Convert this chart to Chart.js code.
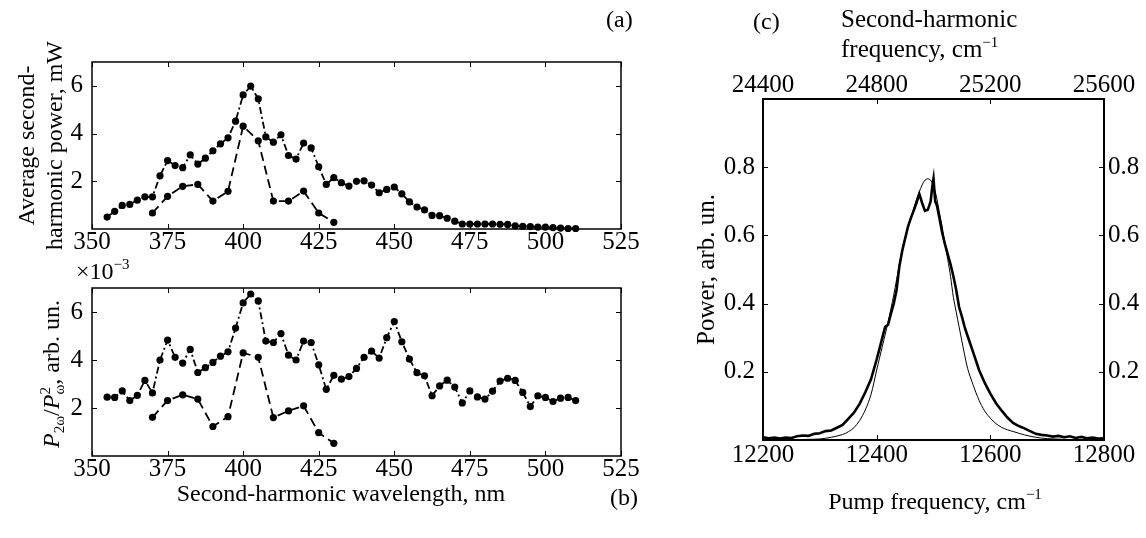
<!DOCTYPE html>
<html>
<head>
<meta charset="utf-8">
<script src="https://cdn.jsdelivr.net/npm/chart.js@4.4.1/dist/chart.umd.min.js"></script>
<style>
  body { margin: 0; background: #fff; }
  #wrap { position: relative; width: 1146px; height: 538px; overflow: hidden; font-family: 'Liberation Serif', serif; color: #000; }
  canvas { position: absolute; left: 0; top: 0; }
  .t { position: absolute; font-size: 24px; line-height: 1; white-space: nowrap; }
  .c { transform: translate(-50%, -50%); }
  sup { font-size: 15px; line-height: 0; vertical-align: 10px; }
  sub { font-size: 15px; line-height: 0; vertical-align: -5px; }
  .ss { display: inline-flex; flex-direction: column; font-size: 15px; line-height: 14px; vertical-align: 9px; }
</style>
</head>
<body>
<div id="wrap">
<canvas id="chA" width="1146" height="538"></canvas>
<canvas id="chB" width="1146" height="538"></canvas>
<canvas id="chC" width="1146" height="538"></canvas>

<div class="t" style="left:606px;top:7px">(a)</div>
<div class="t" style="left:76px;top:259px">×10<sup>−3</sup></div>
<div class="t c" style="left:52px;top:374px;transform:translate(-50%,-50%) rotate(-90deg)"><i>P</i><sub>2ω</sub>/<i>P</i><span class="ss"><span>2</span><span>ω</span></span>, arb. un.</div>
<div class="t c" style="left:341px;top:493px">Second-harmonic wavelength, nm</div>
<div class="t" style="left:610px;top:485px">(b)</div>

<div class="t" style="left:753px;top:9px">(c)</div>
<div class="t" style="left:841px;top:4px;line-height:30px;font-size:25px">Second-harmonic<br>frequency, cm<sup>−1</sup></div>
<div class="t c" style="left:935px;top:501px">Pump frequency, cm<sup>−1</sup></div>
</div>

<script>
// (a), (b): wavelength, nm
const wlFine = [
  355, 357.5, 360, 362.5, 365, 367.5, 370, 372.5, 375, 377.5,
  380, 382.5, 385, 387.5, 390, 392.5, 395, 397.5, 400, 402.5,
  405, 407.5, 410, 412.5, 415, 417.5, 420, 422.5, 425, 427.5,
  430, 432.5, 435, 437.5, 440, 442.5, 445, 447.5, 450, 452.5,
  455, 457.5, 460, 462.5, 465, 467.5, 470, 472.5, 475, 477.5,
  480, 482.5, 485, 487.5, 490, 492.5, 495, 497.5, 500, 502.5,
  505, 507.5, 510
];
const wlCoarse = [370, 375, 380, 385, 390, 395, 400, 405, 410, 415, 420, 425, 430];

// average SH power, mW
const powerFine = [
  0.50, 0.74, 0.99, 1.03, 1.21, 1.35, 1.35, 2.23, 2.87, 2.66,
  2.57, 3.11, 2.72, 2.97, 3.28, 3.57, 3.82, 4.52, 5.62, 5.99,
  5.46, 3.86, 3.64, 3.95, 3.08, 2.93, 3.60, 3.40, 2.61, 1.87,
  2.15, 1.94, 1.80, 2.00, 2.02, 1.84, 1.52, 1.66, 1.76, 1.47,
  1.14, 0.92, 0.80, 0.57, 0.56, 0.45, 0.33, 0.21, 0.21, 0.21,
  0.21, 0.21, 0.20, 0.19, 0.13, 0.11, 0.10, 0.08, 0.08, 0.06,
  0.04, 0.02, 0.02
];
const powerCoarse = [0.67, 1.37, 1.79, 1.87, 1.17, 1.58, 4.31, 3.70, 1.17, 1.17, 1.59, 0.67, 0.28];

// P2w / Pw^2, x1e-3
const effFine = [
  2.45, 2.44, 2.71, 2.31, 2.53, 3.15, 2.63, 4.00, 4.83, 4.11,
  3.87, 4.44, 3.48, 3.68, 3.90, 4.16, 4.34, 5.33, 6.38, 6.75,
  6.46, 4.79, 4.73, 5.10, 4.20, 4.00, 4.79, 4.73, 3.80, 2.78,
  3.36, 3.20, 3.31, 3.65, 4.11, 4.37, 4.08, 4.93, 5.60, 4.76,
  4.04, 3.47, 3.34, 2.51, 2.92, 3.16, 2.87, 2.21, 2.71, 2.46,
  2.37, 2.70, 3.12, 3.24, 3.15, 2.65, 2.06, 2.51, 2.44, 2.27,
  2.41, 2.44, 2.31
];
const effCoarse = [1.61, 2.31, 2.55, 2.37, 1.23, 1.64, 4.30, 4.11, 1.60, 1.88, 2.09, 0.97, 0.53];

const wlTicks = [350, 375, 400, 425, 450, 475, 500, 525];
const yTicksAB = [2, 4, 6];

// (c): pump frequency, cm-1
const expX = [
  12200, 12210, 12220, 12230, 12240, 12250, 12260, 12270, 12280, 12290,
  12300, 12310, 12320, 12330, 12340, 12350, 12360, 12370, 12380, 12390,
  12400, 12405, 12410, 12415, 12420, 12425, 12430, 12435, 12440, 12445,
  12450, 12455, 12460, 12465, 12470, 12475, 12480, 12485, 12490, 12495,
  12498, 12500, 12503, 12506, 12510, 12515, 12520, 12525, 12530, 12535,
  12540, 12545, 12550, 12555, 12560, 12570, 12580, 12590, 12600, 12610,
  12620, 12630, 12640, 12650, 12660, 12670, 12680, 12690, 12700, 12710,
  12720, 12730, 12740, 12750, 12760, 12770, 12780, 12790, 12800
];
const expY = [
  0.008, 0.005, 0.007, 0.004, 0.007, 0.006, 0.011, 0.013, 0.012, 0.018,
  0.020, 0.026, 0.028, 0.036, 0.044, 0.062, 0.080, 0.106, 0.140, 0.178,
  0.236, 0.268, 0.300, 0.332, 0.338, 0.370, 0.400, 0.440, 0.510, 0.555,
  0.590, 0.625, 0.650, 0.672, 0.695, 0.722, 0.695, 0.672, 0.675, 0.700,
  0.745, 0.766, 0.700, 0.688, 0.655, 0.610, 0.575, 0.545, 0.515, 0.480,
  0.440, 0.390, 0.362, 0.330, 0.305, 0.256, 0.206, 0.168, 0.136, 0.108,
  0.086, 0.066, 0.050, 0.041, 0.034, 0.026, 0.018, 0.015, 0.013, 0.010,
  0.012, 0.008, 0.011, 0.006, 0.009, 0.005, 0.007, 0.004, 0.005
];
const calcX = [
  12200, 12250, 12300, 12320, 12340, 12350, 12360, 12370, 12380, 12390,
  12400, 12410, 12420, 12430, 12440, 12450, 12460, 12470, 12480, 12485,
  12490, 12495, 12500, 12505, 12510, 12515, 12520, 12525, 12530, 12535,
  12540, 12550, 12560, 12570, 12580, 12590, 12600, 12610, 12620, 12630,
  12640, 12660, 12680, 12700, 12750, 12800
];
const calcY = [
  0.000, 0.001, 0.003, 0.008, 0.016, 0.024, 0.036, 0.057, 0.088, 0.133,
  0.205, 0.275, 0.345, 0.425, 0.515, 0.595, 0.650, 0.705, 0.748, 0.762,
  0.766, 0.762, 0.745, 0.715, 0.670, 0.628, 0.575, 0.530, 0.480, 0.418,
  0.375, 0.290, 0.210, 0.160, 0.117, 0.085, 0.064, 0.048, 0.037, 0.030,
  0.025, 0.015, 0.008, 0.004, 0.001, 0.000
];
const pumpTicks = [12200, 12400, 12600, 12800];
const shTicks = [24400, 24800, 25200, 25600];
const yTicksC = [0.2, 0.4, 0.6, 0.8];

const FONT = { family: "'Liberation Serif', serif", size: 25, lineHeight: 1 };
const TFONT = { family: "'Liberation Serif', serif", size: 24, lineHeight: 1.2 };

// box + inward tick marks, matlab style
const frame = {
  id: 'frame',
  beforeDatasetsDraw(chart, args, o) {
    const { ctx, chartArea: a, scales } = chart;
    const L = 5;
    ctx.save();
    ctx.strokeStyle = '#000';
    ctx.lineWidth = 1;
    ctx.beginPath();
    Object.values(scales).forEach(s => {
      s.ticks.forEach(t => {
        const p = Math.round(s.getPixelForValue(t.value)) + 0.5;
        if (s.isHorizontal()) {
          if (s.position === 'bottom' || o.mirror) { ctx.moveTo(p, a.bottom); ctx.lineTo(p, a.bottom - L); }
          if (s.position === 'top' || o.mirror) { ctx.moveTo(p, a.top); ctx.lineTo(p, a.top + L); }
        } else {
          if (s.position === 'left' || o.mirror) { ctx.moveTo(a.left, p); ctx.lineTo(a.left + L, p); }
          if (s.position === 'right' || o.mirror) { ctx.moveTo(a.right, p); ctx.lineTo(a.right - L, p); }
        }
      });
    });
    ctx.stroke();
    ctx.lineWidth = o.width;
    ctx.strokeRect(a.left, a.top, a.right - a.left, a.bottom - a.top);
    ctx.restore();
  }
};

function setTicks(list) {
  return s => { s.ticks = list.map(v => ({ value: v })); };
}

function axis(extra) {
  return Object.assign({
    type: 'linear',
    grid: { display: false, drawTicks: false },
    border: { display: false },
    ticks: { font: FONT, color: '#000', padding: 1, maxRotation: 0, callback: v => String(v) }
  }, extra);
}

function dotSeries(xs, ys, dash) {
  return {
    data: xs.map((x, i) => ({ x: x, y: ys[i] })),
    borderColor: '#000',
    backgroundColor: '#000',
    borderWidth: 1.8,
    borderDash: dash,
    pointRadius: 3.6,
    pointBorderWidth: 0,
    tension: 0,
    clip: false
  };
}

const common = {
  responsive: false,
  animation: false,
  events: [],
  plugins: { legend: { display: false }, tooltip: { enabled: false } }
};

// panel (a)
new Chart(document.getElementById('chA'), {
  type: 'line',
  data: {
    datasets: [
      dotSeries(wlFine, powerFine, [7, 3, 2, 3]),
      dotSeries(wlCoarse, powerCoarse, [9, 5])
    ]
  },
  options: Object.assign({}, common, {
    layout: { padding: { left: 13, top: 62, right: 525, bottom: 279 } },
    plugins: Object.assign({}, common.plugins, { frame: { width: 1.5, mirror: true } }),
    scales: {
      x: axis({ min: 350, max: 525, afterBuildTicks: setTicks(wlTicks), afterFit: s => { s.height = 30; } }),
      y: axis({
        min: 0, max: 7,
        afterBuildTicks: setTicks(yTicksAB),
        afterFit: s => { s.width = 79; },
        ticks: { font: FONT, color: '#000', padding: 9, callback: v => String(v) },
        title: { display: true, text: ['Average second-', 'harmonic power, mW'], font: TFONT, color: '#000', padding: 0 }
      })
    }
  }),
  plugins: [frame]
});

// panel (b)
new Chart(document.getElementById('chB'), {
  type: 'line',
  data: {
    datasets: [
      dotSeries(wlFine, effFine, [7, 3, 2, 3]),
      dotSeries(wlCoarse, effCoarse, [9, 5])
    ]
  },
  options: Object.assign({}, common, {
    layout: { padding: { left: 52, top: 288, right: 525, bottom: 52 } },
    plugins: Object.assign({}, common.plugins, { frame: { width: 1.5, mirror: true } }),
    scales: {
      x: axis({ min: 350, max: 525, afterBuildTicks: setTicks(wlTicks), afterFit: s => { s.height = 30; } }),
      y: axis({
        min: 0, max: 7,
        afterBuildTicks: setTicks(yTicksAB),
        afterFit: s => { s.width = 40; },
        ticks: { font: FONT, color: '#000', padding: 9, callback: v => String(v) }
      })
    }
  }),
  plugins: [frame]
});

// panel (c)
new Chart(document.getElementById('chC'), {
  type: 'line',
  data: {
    datasets: [
      {
        data: expX.map((x, i) => ({ x: x, y: expY[i] })),
        borderColor: '#000', borderWidth: 2.6, pointRadius: 0, tension: 0
      },
      {
        data: calcX.map((x, i) => ({ x: x, y: calcY[i] })),
        borderColor: '#000', borderWidth: 1, pointRadius: 0, tension: 0.3
      }
    ]
  },
  options: Object.assign({}, common, {
    layout: { padding: { left: 692, top: 59, right: 0, bottom: 58 } },
    plugins: Object.assign({}, common.plugins, { frame: { width: 2, mirror: false } }),
    scales: {
      x: axis({
        position: 'bottom', min: 12200, max: 12800,
        afterBuildTicks: setTicks(pumpTicks),
        afterFit: s => { s.height = 40; },
        ticks: { font: FONT, color: '#000', padding: 3, maxRotation: 0, callback: v => String(v) }
      }),
      x2: axis({
        position: 'top', min: 24400, max: 25600,
        afterBuildTicks: setTicks(shTicks),
        afterFit: s => { s.height = 40; },
        ticks: { font: FONT, color: '#000', padding: 1, maxRotation: 0, callback: v => String(v) }
      }),
      y: axis({
        position: 'left', min: 0, max: 1,
        afterBuildTicks: setTicks(yTicksC),
        afterFit: s => { s.width = 71; },
        ticks: { font: FONT, color: '#000', padding: 8, callback: v => String(v) },
        title: { display: true, text: 'Power, arb. un.', font: Object.assign({}, TFONT, { size: 25 }), color: '#000', padding: 0 }
      }),
      y2: axis({
        position: 'right', min: 0, max: 1,
        afterBuildTicks: setTicks(yTicksC),
        afterFit: s => { s.width = 42; },
        ticks: { font: FONT, color: '#000', padding: 4, callback: v => String(v) }
      })
    }
  }),
  plugins: [frame]
});
</script>
</body>
</html>
